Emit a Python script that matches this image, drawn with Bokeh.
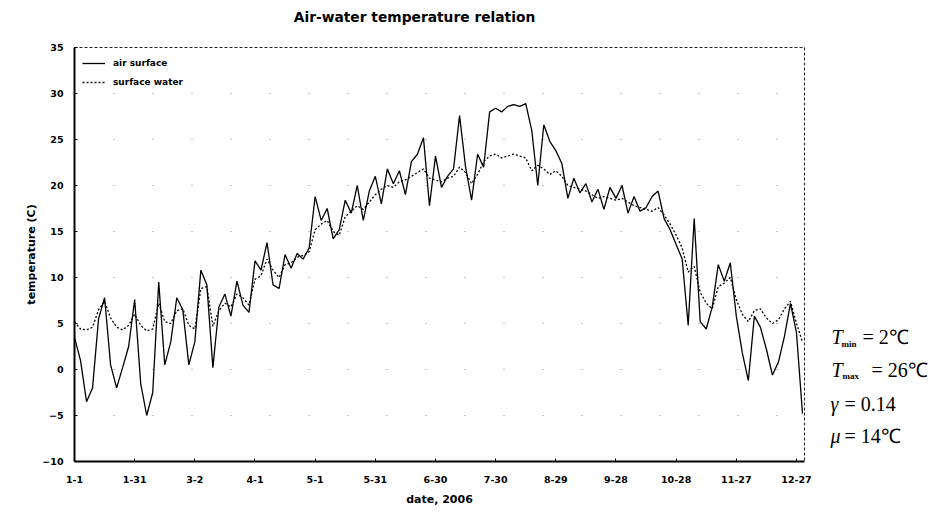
from bokeh.plotting import figure
from bokeh.layouts import row, column
from bokeh.models import Label, FixedTicker, Legend, LegendItem
from bokeh.embed import file_html
from bokeh.resources import INLINE

# day of year 2006 (0 = Jan 1), sampled every 3 days
days = list(range(0, 364, 3))
air = [3.5, 1.0, -3.5, -2.0, 5.5, 7.8, 0.5, -2.0, 0.2, 2.5,
       7.6, -1.5, -5.0, -2.5, 9.5, 0.5, 3.0, 7.8, 6.5, 0.5,
       3.0, 10.8, 9.2, 0.2, 6.8, 8.2, 5.8, 9.6, 7.0, 6.2,
       11.8, 10.8, 13.8, 9.2, 8.8, 12.5, 11.0, 12.6, 12.0, 13.2,
       18.8, 16.2, 17.5, 14.2, 15.2, 18.4, 17.0, 20.0, 16.2, 19.4,
       21.0, 18.0, 21.8, 20.2, 21.6, 19.0, 22.6, 23.4, 25.2, 17.8,
       23.2, 19.8, 21.0, 21.8, 27.6, 22.0, 18.4, 23.4, 22.0, 28.0,
       28.4, 28.0, 28.6, 28.8, 28.6, 28.9, 26.0, 20.0, 26.6, 24.8,
       23.8, 22.4, 18.6, 20.8, 19.2, 20.2, 18.2, 19.6, 17.4, 19.8,
       18.6, 20.0, 17.0, 18.8, 17.2, 17.6, 18.8, 19.4, 16.4, 15.2,
       13.6, 12.0, 4.8, 16.4, 5.2, 4.4, 6.8, 11.4, 9.6, 11.6,
       5.8, 1.8, -1.2, 5.8, 4.6, 2.2, -0.6, 0.8, 3.6, 7.2,
       4.0, -4.8]
water = [5.2, 4.4, 4.3, 4.6, 6.5, 7.4, 5.6, 4.6, 4.3, 4.8,
         6.0, 4.8, 4.2, 4.4, 7.2, 5.2, 5.0, 6.4, 6.6, 4.8,
         4.4, 8.8, 9.0, 4.7, 6.4, 7.2, 6.8, 8.2, 7.8, 7.0,
         9.8, 10.2, 12.0, 10.8, 10.0, 11.4, 11.6, 12.2, 12.4, 12.8,
         15.2, 15.8, 16.2, 15.0, 14.6, 16.6, 17.2, 17.8, 17.4, 18.2,
         19.0, 19.6, 20.0, 19.8, 20.4, 20.6, 21.0, 21.4, 21.8, 20.8,
         20.6, 20.4, 20.8, 21.0, 22.0, 21.4, 20.2, 21.2, 22.6, 23.2,
         23.4, 23.0, 23.2, 23.4, 23.2, 23.0, 21.6, 22.2, 21.8, 21.2,
         21.6, 21.0, 20.0, 19.8, 19.6, 19.4, 19.0, 18.6, 18.8, 18.6,
         18.4, 18.6, 18.2, 17.8, 17.6, 17.4, 17.2, 17.6, 16.8, 15.8,
         14.6, 13.2, 10.6, 11.2, 8.4, 7.2, 6.6, 9.0, 9.4, 10.0,
         7.6, 6.0, 5.2, 6.4, 6.6, 5.6, 5.0, 5.4, 6.6, 7.4,
         5.0, 3.0]

tick_days = [0, 30, 60, 90, 120, 150, 180, 210, 240, 270, 300, 330, 360]
tick_labels = ["1-1", "1-31", "3-2", "4-1", "5-1", "5-31", "6-30",
               "7-30", "8-29", "9-28", "10-28", "11-27", "12-27"]
y_ticks = [-10, -5, 0, 5, 10, 15, 20, 25, 30, 35]

title_text = "Air-water temperature relation"
x_label = "date, 2006"
y_label = "temperature (C)"
series_names = ["air surface", "surface water"]

SANS = "DejaVu Sans"
SERIF = "Liberation Serif"

# --- title strip -----------------------------------------------------------
t = figure(frame_width=936, frame_height=32,
           min_border_left=0, min_border_right=0,
           min_border_top=0, min_border_bottom=0,
           x_range=(0, 936), y_range=(0, 32),
           output_backend="svg", toolbar_location=None)
t.axis.visible = False
t.grid.visible = False
t.outline_line_color = None
t.background_fill_color = "white"
t.border_fill_color = "white"
t.add_layout(Label(x=414, y=16, text=title_text, text_align="center",
                   text_baseline="middle", text_font=SANS, text_font_style="bold",
                   text_font_size="13.8px", text_color="black"))

# --- main chart ------------------------------------------------------------
p = figure(frame_width=730, frame_height=414,
           min_border_left=74, min_border_right=16,
           min_border_top=15, min_border_bottom=50,
           x_range=(0, 364), y_range=(-10, 35),
           output_backend="svg", toolbar_location=None)
p.background_fill_color = "white"
p.border_fill_color = "white"
p.outline_line_color = "#222222"
p.outline_line_dash = "3 2"
p.outline_line_width = 1

p.xgrid.grid_line_color = None
p.ygrid.grid_line_color = "#555555"
p.ygrid.grid_line_dash = "1 38"
p.ygrid.grid_line_alpha = 0.7

r_air = p.line(days, air, line_color="black", line_width=1.3)
r_water = p.line(days, water, line_color="black", line_width=1.3, line_dash="2 2")

for ax in (p.xaxis[0], p.yaxis[0]):
    ax.axis_line_width = 2
    ax.axis_line_color = "black"
    ax.major_tick_in = 3
    ax.major_tick_out = 0
    ax.minor_tick_line_color = None
    ax.major_tick_line_color = "black"
    ax.major_label_text_font = SANS
    ax.major_label_text_font_style = "bold"
    ax.major_label_text_font_size = "9.5px"
    ax.major_label_text_color = "black"
    ax.axis_label_text_font = SANS
    ax.axis_label_text_font_style = "bold"
    ax.axis_label_text_font_size = "11px"
    ax.axis_label_text_color = "black"

p.xaxis.ticker = FixedTicker(ticks=tick_days)
p.xaxis.major_label_overrides = {d: s for d, s in zip(tick_days, tick_labels)}
p.xaxis.major_label_standoff = 14
p.xaxis.axis_label = x_label
p.xaxis.axis_label_standoff = 7

p.yaxis.ticker = FixedTicker(ticks=y_ticks)
p.yaxis.major_label_standoff = 11
p.yaxis.axis_label = y_label
p.yaxis.axis_label_standoff = 1

legend = Legend(items=[LegendItem(label=series_names[0], renderers=[r_air]),
                       LegendItem(label=series_names[1], renderers=[r_water])],
                location="top_left")
legend.border_line_color = None
legend.background_fill_alpha = 0
legend.margin = 8
legend.padding = 2
legend.spacing = 3
legend.glyph_height = 16
legend.glyph_width = 23
legend.label_height = 16
legend.label_standoff = 8
legend.label_text_font = SANS
legend.label_text_font_style = "bold"
legend.label_text_font_size = "9px"
legend.label_text_color = "black"
p.add_layout(legend)

# --- side panel with the model parameters (same vertical scale) -------------
q = figure(frame_width=118, frame_height=414,
           min_border_left=0, min_border_right=0,
           min_border_top=15, min_border_bottom=50,
           x_range=(0, 118), y_range=(-10, 35),
           output_backend="svg", toolbar_location=None)
q.axis.visible = False
q.grid.visible = False
q.outline_line_color = None
q.background_fill_color = "white"
q.border_fill_color = "white"


def lab(x, y, txt, size="20px", style="normal"):
    q.add_layout(Label(x=x, y=y, text=txt, text_font=SERIF, text_font_size=size,
                       text_font_style=style, text_baseline="alphabetic",
                       text_color="black"))


dy = 1.2
dy2 = 0.76
lab(11, 2.28 + dy, "T", style="italic")
lab(21, 1.55 + dy, "min", size="9px", style="bold")
lab(42, 2.28 + dy, "= 2\u2103")
lab(11, -1.2 + dy, "T", style="italic")
lab(22, -1.95 + dy, "max", size="9px", style="bold")
lab(51, -1.2 + dy, "= 26\u2103")
lab(10, -4.46 + dy2, "\u03b3", style="italic")
lab(24, -4.46 + dy2, "= 0.14")
lab(10, -8.04 + dy2, "\u03bc", style="italic")
lab(24, -8.04 + dy2, "= 14\u2103")

layout = column(t, row(p, q))
open("out.html", "w").write(file_html(layout, INLINE))
